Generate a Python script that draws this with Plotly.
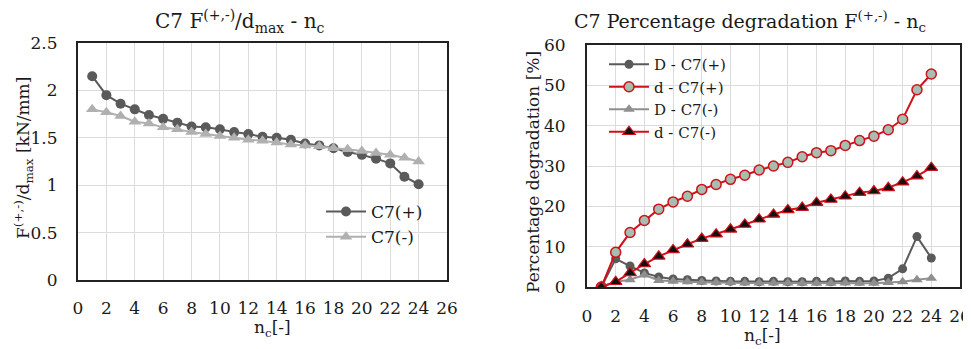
import plotly.graph_objects as go

n_cycles = list(range(1, 25))

# Left chart: F/dmax [kN/mm]
c7_pos = [2.15, 1.95, 1.86, 1.80, 1.74, 1.70, 1.66, 1.62, 1.61, 1.59, 1.56, 1.54,
          1.51, 1.50, 1.48, 1.44, 1.42, 1.39, 1.35, 1.32, 1.28, 1.23, 1.09, 1.01]
c7_neg = [1.80, 1.77, 1.73, 1.67, 1.65, 1.61, 1.59, 1.56, 1.54, 1.52, 1.50, 1.48,
          1.47, 1.45, 1.43, 1.42, 1.41, 1.39, 1.38, 1.36, 1.34, 1.32, 1.29, 1.25]

# Right chart: percentage degradation [%]
D_pos = [0.0, 7.0, 5.2, 3.5, 2.5, 2.0, 1.8, 1.6, 1.5, 1.4, 1.4, 1.3,
         1.4, 1.3, 1.3, 1.4, 1.3, 1.5, 1.4, 1.5, 2.2, 4.5, 12.5, 7.2]
d_pos = [0.0, 8.6, 13.5, 16.5, 19.3, 21.1, 22.5, 24.2, 25.4, 26.7, 27.7, 29.0,
         30.0, 30.9, 32.3, 33.3, 33.8, 35.1, 36.3, 37.4, 39.0, 41.6, 48.9, 52.8]
D_neg = [0.0, 1.3, 1.8, 3.0, 1.6, 1.4, 1.3, 1.2, 1.1, 1.1, 1.0, 1.0,
         1.0, 1.0, 0.9, 0.9, 0.9, 1.0, 0.9, 0.9, 1.1, 1.3, 1.8, 2.2]
d_neg = [0.0, 1.3, 3.5, 5.7, 7.6, 9.2, 10.6, 12.0, 13.1, 14.3, 15.5, 16.8,
         18.0, 19.1, 19.7, 20.9, 21.7, 22.5, 23.4, 23.8, 24.6, 26.0, 27.5, 29.6]

x_ticks = list(range(0, 27, 2))

FONT = "DejaVu Serif"
TXT = "#1a1a1a"
OFF = 8                      # default page body margin
W, H = 971 - OFF, 349 - OFF  # figure size inside the window

def px_x(p):
    return (p - OFF) / W

def px_y(p):
    return 1 - (p - OFF) / H

fig = go.Figure()

# Left traces
fig.add_trace(go.Scatter(x=n_cycles, y=c7_pos, name="C7(+)", mode="lines+markers",
                         line=dict(color="#5a5a5a", width=2),
                         marker=dict(symbol="circle", size=10, color="#5a5a5a"),
                         xaxis="x", yaxis="y", legend="legend"))
fig.add_trace(go.Scatter(x=n_cycles, y=c7_neg, name="C7(-)", mode="lines+markers",
                         line=dict(color="#b0b0b0", width=2),
                         marker=dict(symbol="triangle-up", size=11, color="#b0b0b0"),
                         xaxis="x", yaxis="y", legend="legend"))

# Right traces
fig.add_trace(go.Scatter(x=n_cycles, y=D_pos, name="D - C7(+)", mode="lines+markers",
                         line=dict(color="#5a5a5a", width=2),
                         marker=dict(symbol="circle", size=9, color="#5a5a5a"),
                         xaxis="x2", yaxis="y2", legend="legend2"))
fig.add_trace(go.Scatter(x=n_cycles, y=d_pos, name="d - C7(+)", mode="lines+markers",
                         line=dict(color="#d0101a", width=2),
                         marker=dict(symbol="circle", size=10, color="#a7bdb0",
                                     line=dict(color="#d0101a", width=1.5)),
                         xaxis="x2", yaxis="y2", legend="legend2"))
fig.add_trace(go.Scatter(x=n_cycles, y=D_neg, name="D - C7(-)", mode="lines+markers",
                         line=dict(color="#8f8f8f", width=2),
                         marker=dict(symbol="triangle-up", size=10, color="#8f8f8f"),
                         xaxis="x2", yaxis="y2", legend="legend2"))
fig.add_trace(go.Scatter(x=n_cycles, y=d_neg, name="d - C7(-)", mode="lines+markers",
                         line=dict(color="#d0101a", width=2),
                         marker=dict(symbol="triangle-up", size=11, color="#111111",
                                     line=dict(color="#d0101a", width=1.2)),
                         xaxis="x2", yaxis="y2", legend="legend2"))

axis_common = dict(showgrid=True, gridcolor="#dcdcdc", gridwidth=1,
                   showline=True, linecolor="#222222", linewidth=2, mirror=True,
                   zeroline=False, automargin=False,
                   ticks="outside", tickcolor="rgba(0,0,0,0)",
                   tickfont=dict(family=FONT, size=17, color=TXT))

def ann(text, x, y, size=17, angle=0):
    return dict(text=text, x=px_x(x), y=px_y(y), xref="paper", yref="paper",
                xanchor="center", yanchor="middle", showarrow=False, textangle=angle,
                font=dict(family=FONT, size=size, color=TXT))

fig.update_layout(
    width=W, height=H,
    margin=dict(l=0, r=0, t=0, b=0),
    paper_bgcolor="white", plot_bgcolor="white",
    font=dict(family=FONT, size=17, color=TXT),
    xaxis=dict(domain=[px_x(78), px_x(447)], range=[0, 26], tickvals=x_ticks,
               ticklen=12, anchor="y", **axis_common),
    yaxis=dict(domain=[px_y(280), px_y(43)], range=[0, 2.5], dtick=0.5,
               ticklen=15, anchor="x", **axis_common),
    xaxis2=dict(domain=[px_x(587), px_x(960)], range=[0, 26], tickvals=x_ticks,
                ticklen=13, anchor="y2", **axis_common),
    yaxis2=dict(domain=[px_y(287), px_y(45)], range=[0, 60], dtick=10,
                ticklen=16, anchor="x2", **axis_common),
    legend=dict(x=px_x(321), y=px_y(194), xanchor="left", yanchor="top",
                bgcolor="rgba(0,0,0,0)", font=dict(family=FONT, size=17, color=TXT),
                tracegroupgap=0, itemwidth=40),
    legend2=dict(x=px_x(604), y=px_y(48), xanchor="left", yanchor="top",
                 bgcolor="rgba(0,0,0,0)", font=dict(family=FONT, size=15, color=TXT),
                 tracegroupgap=0, itemwidth=40),
    annotations=[
        ann("C7 F<sup>(+,-)</sup>/d<sub>max</sub> - n<sub>c</sub>", 240, 22, size=20),
        ann("C7 Percentage degradation F<sup>(+,-)</sup> - n<sub>c</sub>", 750, 22, size=19),
        ann("F<sup>(+,-)</sup>/d<sub>max</sub> [kN/mm]", 23, 158, angle=-90),
        ann("Percentage degradation [%]", 533, 172, angle=-90),
        ann("n<sub>c</sub>[-]", 272, 328),
        ann("n<sub>c</sub>[-]", 762, 336),
    ],
)

fig.write_html("out.html")
